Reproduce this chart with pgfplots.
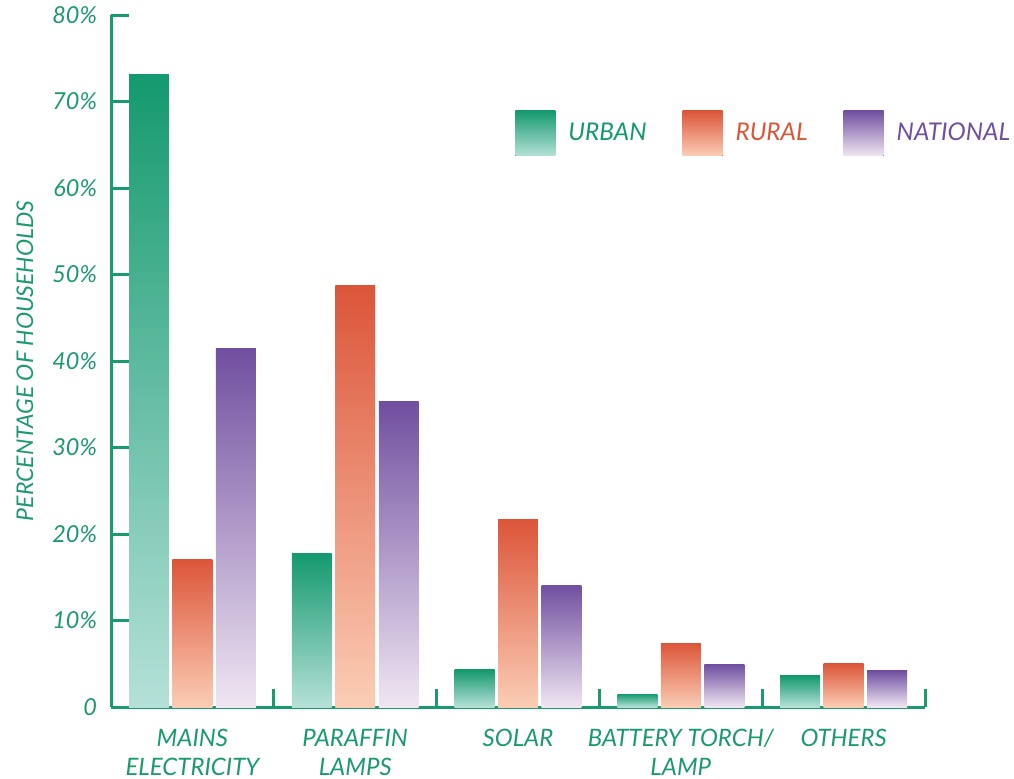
\documentclass[border=0pt]{standalone}
\usepackage{pgfplots}
\pgfplotsset{compat=1.18}
\usepackage{fontspec}
\setmainfont{Lato}

\definecolor{axgreen}{HTML}{1B9A6E}
\definecolor{urbtop}{HTML}{14996E}
\definecolor{urbbot}{HTML}{B5E1D7}
\definecolor{rurtop}{HTML}{DC5539}
\definecolor{rurbot}{HTML}{FBCDB5}
\definecolor{nattop}{HTML}{704FA0}
\definecolor{natbot}{HTML}{F0E6F2}

% each bar is its own plot so every bar gets its own gradient
\pgfplotsset{
    urb/.style={ybar, bar width=0.245, bar shift=-0.267, draw=none, top color=urbtop, bottom color=urbbot, forget plot},
    rur/.style={ybar, bar width=0.245, bar shift=0, draw=none, top color=rurtop, bottom color=rurbot, forget plot},
    nat/.style={ybar, bar width=0.245, bar shift=0.267, draw=none, top color=nattop, bottom color=natbot, forget plot},
}

\begin{document}
\begin{tikzpicture}
\begin{axis}[
    scale only axis,
    width=407pt, height=346pt,
    xmin=-0.5, xmax=4.5,
    ymin=0, ymax=80,
    clip=false,
    axis x line=bottom, axis y line=left,
    axis line style={-, draw=axgreen, line width=1.5pt},
    tick style={draw=axgreen, line width=1.5pt},
    tick align=inside,
    major tick length=9pt,
    ytick={0,10,...,80},
    yticklabels={0,10\%,20\%,30\%,40\%,50\%,60\%,70\%,80\%},
    yticklabel style={font=\fontsize{11.7}{14}\selectfont\itshape, text=axgreen, xshift=-3.5pt},
    xtick={0.5,1.5,2.5,3.5,4.5},
    xticklabels={,,,,},
    extra x ticks={0,1,2,3,4},
    extra x tick labels={MAINS\\ELECTRICITY,PARAFFIN\\LAMPS,SOLAR,BATTERY TORCH/\\LAMP,OTHERS},
    extra x tick style={major tick length=0pt},
    xticklabel style={align=center, text=axgreen, font=\fontsize{12}{14.5}\selectfont\itshape, yshift=-7.5pt},
    ylabel={PERCENTAGE OF HOUSEHOLDS},
    every axis y label/.style={at={(axis description cs:-0.1057,0.5)}, rotate=90, anchor=center,
        text=axgreen, font=\fontsize{11.5}{14}\selectfont\itshape},
    legend columns=3,
    legend style={at={(axis description cs:0.489,0.868)}, anchor=north west, draw=none, fill=none,
        font=\fontsize{12.2}{14}\selectfont\itshape,
        /tikz/every odd column/.append style={column sep=4.5pt},
        /tikz/every even column/.append style={column sep=16pt}},
    legend image code/.code={\fill[#1, draw=none] (0pt,-11.25pt) rectangle (20pt,11.25pt);},
]
% URBAN
\addplot[urb] coordinates {(0,73.1)};
\addplot[urb] coordinates {(1,17.8)};
\addplot[urb] coordinates {(2,4.3)};
\addplot[urb] coordinates {(3,1.5)};
\addplot[urb] coordinates {(4,3.6)};
% RURAL
\addplot[rur] coordinates {(0,17.0)};
\addplot[rur] coordinates {(1,48.7)};
\addplot[rur] coordinates {(2,21.7)};
\addplot[rur] coordinates {(3,7.4)};
\addplot[rur] coordinates {(4,5.0)};
% NATIONAL
\addplot[nat] coordinates {(0,41.4)};
\addplot[nat] coordinates {(1,35.3)};
\addplot[nat] coordinates {(2,14.1)};
\addplot[nat] coordinates {(3,4.9)};
\addplot[nat] coordinates {(4,4.2)};

\addlegendimage{top color=urbtop, bottom color=urbbot}
\addlegendentry{\textcolor{urbtop}{URBAN}}
\addlegendimage{top color=rurtop, bottom color=rurbot}
\addlegendentry{\textcolor{rurtop}{RURAL}}
\addlegendimage{top color=nattop, bottom color=natbot}
\addlegendentry{\textcolor{nattop}{NATIONAL}}
\coordinate (bbsw) at (axis description cs:-0.1364,-0.104);
\coordinate (bbne) at (axis description cs:1.1093,1.0217);
\end{axis}
\pgfresetboundingbox
\path[use as bounding box] (bbsw) rectangle (bbne);
\end{tikzpicture}
\end{document}
